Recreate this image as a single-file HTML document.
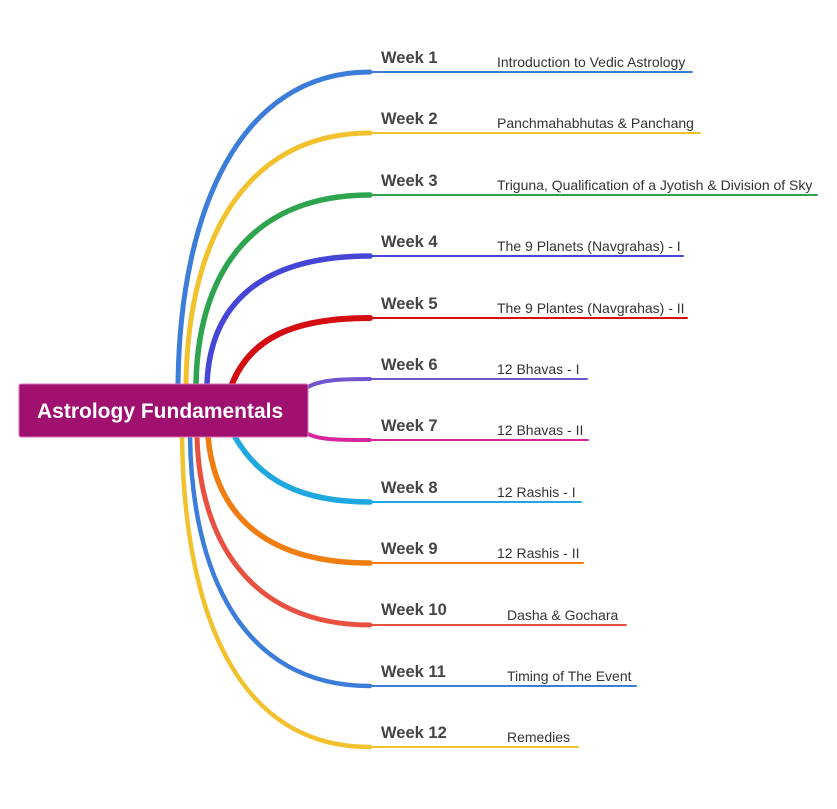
<!DOCTYPE html>
<html><head><meta charset="utf-8"><style>
html,body{margin:0;padding:0;background:#fff;}
svg{display:block;}
.wk{font-family:"Liberation Sans",sans-serif;font-weight:bold;font-size:16.5px;fill:#444;}
.tp{font-family:"Liberation Sans",sans-serif;font-size:14px;fill:#333;}
</style></head><body>
<svg width="837" height="809" viewBox="0 0 837 809" xmlns="http://www.w3.org/2000/svg">
<g fill="none" stroke-linecap="round">
<path d="M178 384 C180 210 240 72 370 72" stroke="#3b7dd8" stroke-width="5"/>
<path d="M186 384 C188 240 245 133 370 133" stroke="#f2c12e" stroke-width="5"/>
<path d="M196 384 C198 275 250 195 370 195" stroke="#2ea44f" stroke-width="5.5"/>
<path d="M207 384 C210 305 260 256 370 256" stroke="#4646d6" stroke-width="5.5"/>
<path d="M232 384 C250 340 290 318 370 318" stroke="#d40d12" stroke-width="6"/>
<path d="M308 387 C320 380 340 379 370 379" stroke="#7055d0" stroke-width="4"/>
<path d="M308 434 C320 440 340 440 370 440" stroke="#d6279c" stroke-width="4"/>
<path d="M235 437 C260 480 300 502 370 502" stroke="#1fa8e0" stroke-width="5.5"/>
<path d="M208 437 C215 510 260 563 370 563" stroke="#ef7d0f" stroke-width="5.5"/>
<path d="M197 437 C200 540 250 625 370 625" stroke="#e8503f" stroke-width="5"/>
<path d="M190 437 C192 570 240 686 370 686" stroke="#3b7dd8" stroke-width="4.5"/>
<path d="M182 437 C184 600 230 747 370 747" stroke="#f2c12e" stroke-width="4.5"/>
<g stroke-width="2">
<line x1="368" y1="72" x2="692" y2="72" stroke="#3b7dd8"/>
<line x1="368" y1="133" x2="700" y2="133" stroke="#f2c12e"/>
<line x1="368" y1="195" x2="817" y2="195" stroke="#2ea44f"/>
<line x1="368" y1="256" x2="683" y2="256" stroke="#4646d6"/>
<line x1="368" y1="318" x2="687" y2="318" stroke="#d40d12"/>
<line x1="368" y1="379" x2="587" y2="379" stroke="#7055d0"/>
<line x1="368" y1="440" x2="588" y2="440" stroke="#d6279c"/>
<line x1="368" y1="502" x2="581" y2="502" stroke="#1fa8e0"/>
<line x1="368" y1="563" x2="583" y2="563" stroke="#ef7d0f"/>
<line x1="368" y1="625" x2="626" y2="625" stroke="#e8503f"/>
<line x1="368" y1="686" x2="636" y2="686" stroke="#3b7dd8"/>
<line x1="368" y1="747" x2="578" y2="747" stroke="#f2c12e"/>
</g>
</g>
<rect x="19" y="384" width="289" height="53" rx="2" fill="#a0106e" stroke="#e070b8" stroke-width="1"/>
<text x="37" y="418" font-family="Liberation Sans, sans-serif" font-weight="bold" font-size="21" fill="#fff">Astrology Fundamentals</text>
<text class="wk" x="381" y="63">Week 1</text>
<text class="wk" x="381" y="124">Week 2</text>
<text class="wk" x="381" y="186">Week 3</text>
<text class="wk" x="381" y="247">Week 4</text>
<text class="wk" x="381" y="309">Week 5</text>
<text class="wk" x="381" y="370">Week 6</text>
<text class="wk" x="381" y="431">Week 7</text>
<text class="wk" x="381" y="493">Week 8</text>
<text class="wk" x="381" y="554">Week 9</text>
<text class="wk" x="381" y="615">Week 10</text>
<text class="wk" x="381" y="677">Week 11</text>
<text class="wk" x="381" y="738">Week 12</text>
<text class="tp" x="497" y="67">Introduction to Vedic Astrology</text>
<text class="tp" x="497" y="128">Panchmahabhutas &amp; Panchang</text>
<text class="tp" x="497" y="190">Triguna, Qualification of a Jyotish &amp; Division of Sky</text>
<text class="tp" x="497" y="251">The 9 Planets (Navgrahas) - I</text>
<text class="tp" x="497" y="313">The 9 Plantes (Navgrahas) - II</text>
<text class="tp" x="497" y="374">12 Bhavas - I</text>
<text class="tp" x="497" y="435">12 Bhavas - II</text>
<text class="tp" x="497" y="497">12 Rashis - I</text>
<text class="tp" x="497" y="558">12 Rashis - II</text>
<text class="tp" x="507" y="620">Dasha &amp; Gochara</text>
<text class="tp" x="507" y="681">Timing of The Event</text>
<text class="tp" x="507" y="742">Remedies</text>
</svg>
</body></html>
